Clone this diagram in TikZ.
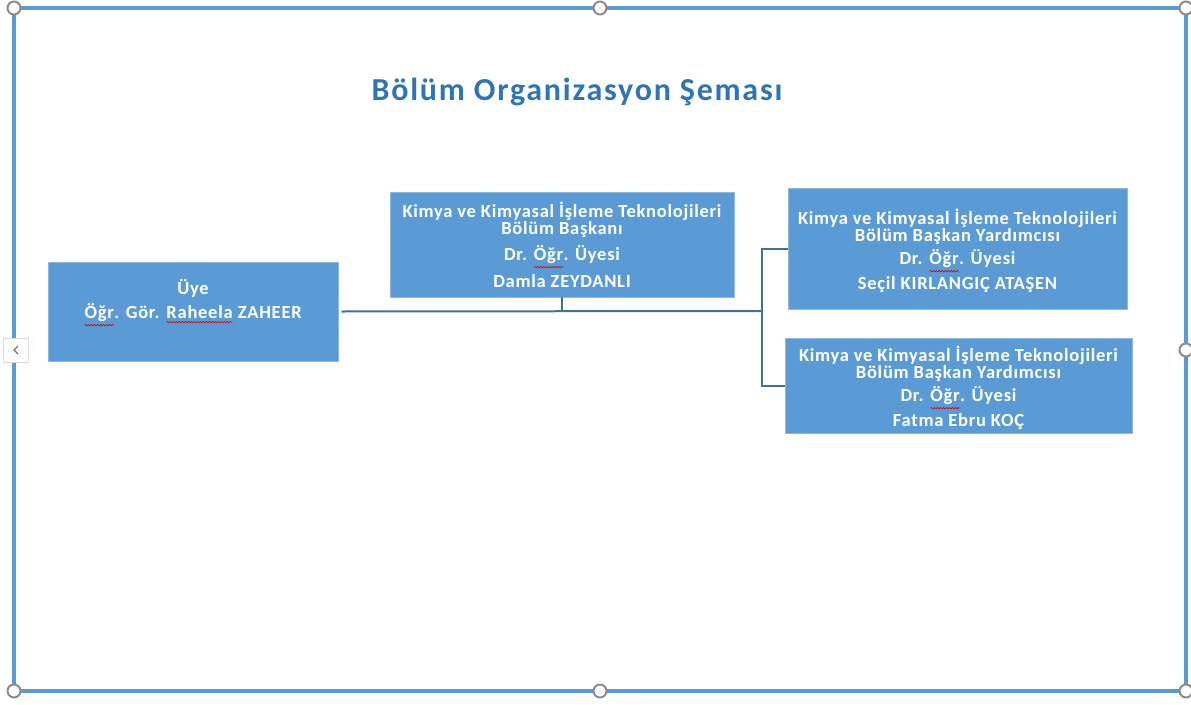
\documentclass[tikz,border=0pt]{standalone}
\usepackage{fontspec}
\setmainfont{Carlito}
\usetikzlibrary{decorations.pathmorphing}

\definecolor{boxblue}{RGB}{91,155,213}
\definecolor{linkblue}{RGB}{65,113,156}
\definecolor{titleblue}{RGB}{46,117,182}
\definecolor{handlegray}{RGB}{140,140,140}

% red spell-check wave under a word
\newcommand{\wavy}[1]{\tikz[baseline=(w.base)]{\node[inner sep=0pt,outer sep=0pt] (w) {#1};
  \draw[red!85!black,line width=0.6pt,decorate,decoration={snake,amplitude=0.7pt,segment length=3pt}]
  ([yshift=-3.2pt]w.south west) -- ([yshift=-3.2pt]w.south east);}}

\tikzset{
  orgbox/.style={rectangle,fill=boxblue,draw=boxblue!70!white,line width=0.6pt,inner sep=0pt},
  orgtext/.style={text=white,align=center,inner sep=0pt,font=\fontsize{18.5}{17.5}\selectfont\bfseries\addfontfeatures{LetterSpace=4}},
  link/.style={draw=linkblue,line width=2pt},
  handle/.style={circle,fill=white,draw=handlegray,line width=2pt,minimum size=13pt,inner sep=0pt}
}

\begin{document}
\begin{tikzpicture}[x=1pt,y=-1pt]
  \useasboundingbox (0,0) rectangle (1191,704);

  % slide frame
  \draw[boxblue,line width=3.5pt] (14,8) rectangle (1186,691);

  \node[font=\fontsize{32}{32}\selectfont\bfseries\addfontfeatures{LetterSpace=5.5},text=titleblue] (title) at (577,92) {Bölüm Organizasyon Şeması};

  % boxes
  \node[orgbox,minimum width=290pt,minimum height=99pt] (uye) at (193,311.5) {};
  \node[orgtext] (uyetext) at (193,303) {Üye\\[5pt]\wavy{Öğr}. Gör. \wavy{Raheela} ZAHEER};

  \node[orgbox,minimum width=344pt,minimum height=105pt] (head) at (562,244.5) {};
  \node[orgtext] (headtext) at (562,244.5) {Kimya ve Kimyasal İşleme Teknolojileri\\Bölüm Başkanı\\[7pt]Dr. \wavy{Öğr}. Üyesi\\[5pt]Damla ZEYDANLI};

  \node[orgbox,minimum width=339pt,minimum height=121pt] (vpone) at (957.5,248.5) {};
  \node[orgtext] (vponetext) at (957.5,250.5) {Kimya ve Kimyasal İşleme Teknolojileri\\Bölüm Başkan Yardımcısı\\[4pt]Dr. \wavy{Öğr}. Üyesi\\[3pt]Seçil KIRLANGIÇ ATAŞEN};

  \node[orgbox,minimum width=347pt,minimum height=95pt] (vptwo) at (958.5,385.5) {};
  \node[orgtext] (vptwotext) at (958.5,387.5) {Kimya ve Kimyasal İşleme Teknolojileri\\Bölüm Başkan Yardımcısı\\[4pt]Dr. \wavy{Öğr}. Üyesi\\[3pt]Fatma Ebru KOÇ};

  % connectors
  \coordinate (bus) at (762,311);
  \draw[link] ([xshift=3pt]uye.east) -- (bus);
  \draw[link] (head.south) -- (head.south |- bus);
  \draw[link] (vpone.west) -- (bus |- vpone.west) -- (bus |- vptwo.west) -- (vptwo.west);

  % selection handles
  \foreach \hx/\hy in {14/8,600/8,1186/8,14/691,600/691,1186/691,1186/350}
    \node[handle] at (\hx,\hy) {};

  % collapse tab on the left edge
  \node[rectangle,fill=white,draw=black!15,line width=0.8pt,minimum width=25pt,minimum height=24pt,inner sep=0pt] (tab) at (16,350) {};
  \draw[black!55,line width=1.4pt] ([xshift=2pt,yshift=-4pt]tab.center) -- ([xshift=-2pt]tab.center) -- ([xshift=2pt,yshift=4pt]tab.center);
\end{tikzpicture}
\end{document}
